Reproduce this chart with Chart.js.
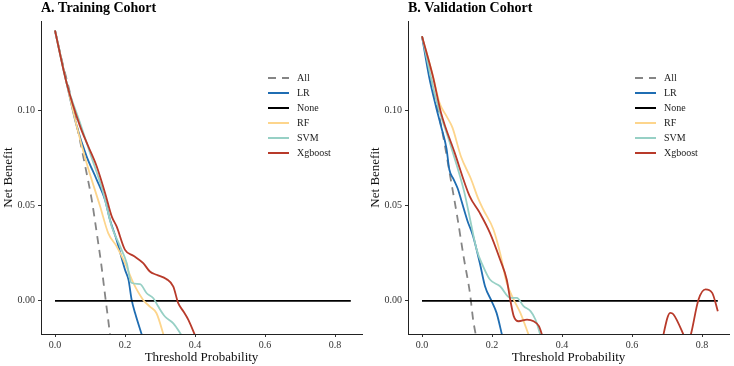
<!DOCTYPE html>
<html>
<head>
<meta charset="utf-8">
<script src="https://cdn.jsdelivr.net/npm/chart.js@4.4.0/dist/chart.umd.min.js"></script>
<style>
  html, body { margin: 0; padding: 0; background: #fff; }
  .wrap { display: flex; width: 734px; height: 366px; }
  canvas { display: block; }
</style>
</head>
<body>
<div class="wrap">
  <canvas id="trainChart" width="367" height="366"></canvas>
  <canvas id="validChart" width="367" height="366"></canvas>
</div>
<script>
const seriesNames = ['All', 'LR', 'None', 'RF', 'SVM', 'Xgboost'];
const xTicks = [0, 0.2, 0.4, 0.6, 0.8];
const yTicks = [0, 0.05, 0.10];

// training cohort, [threshold, net benefit]
const trainAll = [[0, 0.142], [0.02, 0.126], [0.043, 0.109], [0.067, 0.088], [0.086, 0.071], [0.105, 0.053], [0.119, 0.036], [0.133, 0.018], [0.143, 0.003], [0.152, -0.010], [0.16, -0.022]];
const trainLR = [[0, 0.142], [0.033, 0.1146], [0.062, 0.0918], [0.09, 0.076], [0.119, 0.0637], [0.143, 0.053], [0.157, 0.0426], [0.176, 0.032], [0.2, 0.0163], [0.21, 0.011], [0.219, 0.0005], [0.229, -0.0065], [0.25, -0.019]];
const trainNone = [[0, 0], [0.845, 0]];
const trainRF = [[0, 0.142], [0.033, 0.1146], [0.062, 0.0918], [0.09, 0.0725], [0.129, 0.0496], [0.152, 0.0356], [0.176, 0.0286], [0.2, 0.0198], [0.224, 0.0093], [0.252, 0.0005], [0.271, -0.003], [0.29, -0.0065], [0.312, -0.019]];
const trainSVM = [[0, 0.142], [0.033, 0.1146], [0.0714, 0.0935], [0.1, 0.0777], [0.138, 0.0567], [0.162, 0.0391], [0.186, 0.0286], [0.205, 0.0198], [0.218, 0.0095], [0.243, 0.0088], [0.262, 0.004], [0.281, 0.0014], [0.295, -0.003], [0.314, -0.0082], [0.338, -0.0118], [0.365, -0.019]];
const trainXgb = [[0, 0.142], [0.033, 0.1146], [0.0714, 0.0918], [0.095, 0.0812], [0.119, 0.0707], [0.143, 0.0567], [0.162, 0.0444], [0.176, 0.0391], [0.2, 0.0268], [0.224, 0.0237], [0.252, 0.0198], [0.271, 0.0154], [0.29, 0.0137], [0.319, 0.0114], [0.338, 0.0075], [0.352, -0.0012], [0.367, -0.0056], [0.381, -0.01], [0.402, -0.019]];

// validation cohort
const validAll = [[0, 0.139], [0.03, 0.113], [0.06, 0.087], [0.08, 0.066], [0.10, 0.045], [0.12, 0.022], [0.137, 0.004], [0.146, -0.0098], [0.157, -0.021]];
const validLR = [[0, 0.139], [0.02, 0.118], [0.04, 0.102], [0.054, 0.092], [0.07, 0.080], [0.078, 0.069], [0.09, 0.064], [0.102, 0.059], [0.112, 0.053], [0.13, 0.042], [0.146, 0.034], [0.165, 0.02], [0.18, 0.0077], [0.199, -0.0002], [0.213, -0.0063], [0.23, -0.019]];
const validNone = [[0, 0], [0.845, 0]];
const validRF = [[0, 0.139], [0.03, 0.119], [0.05, 0.104], [0.07, 0.097], [0.087, 0.091], [0.111, 0.076], [0.14, 0.064], [0.16, 0.054], [0.175, 0.048], [0.204, 0.0375], [0.223, 0.0252], [0.242, 0.0095], [0.262, 0.0007], [0.281, -0.0063], [0.307, -0.019]];
const validSVM = [[0, 0.139], [0.04, 0.106], [0.083, 0.081], [0.121, 0.057], [0.135, 0.045], [0.156, 0.027], [0.175, 0.018], [0.194, 0.0112], [0.223, 0.0077], [0.252, 0.0016], [0.271, 0.0016], [0.29, -0.0028], [0.31, -0.0054], [0.324, -0.0098], [0.34, -0.019]];
const validXgb = [[0, 0.139], [0.031, 0.118], [0.054, 0.099], [0.093, 0.078], [0.136, 0.055], [0.165, 0.0462], [0.194, 0.0357], [0.223, 0.0217], [0.242, 0.0112], [0.252, 0.0007], [0.262, -0.008], [0.276, -0.0107], [0.3, -0.0098], [0.319, -0.0107], [0.334, -0.0133], [0.345, -0.019], [0.4, -0.045], [0.5, -0.07], [0.6, -0.06], [0.68, -0.025], [0.709, -0.0063], [0.718, -0.007], [0.75, -0.019], [0.757, -0.022], [0.766, -0.019], [0.79, 0.0007], [0.81, 0.006], [0.829, 0.0042], [0.845, -0.0054]];

const colors = ['#858585', '#1f6db2', '#000000', '#fdd58c', '#97d0c5', '#b83a2a'];
const serif = '"Liberation Serif", "DejaVu Serif", serif';

// title drawn above the plot area, left aligned with the y axis
const panelTitle = {
    id: 'panelTitle',
    afterDraw(chart, args, opts) {
        const ctx = chart.ctx;
        ctx.save();
        ctx.font = 'bold 14px ' + serif;
        ctx.fillStyle = '#000';
        ctx.textAlign = 'left';
        ctx.textBaseline = 'alphabetic';
        ctx.fillText(opts.text, chart.chartArea.left, 12);
        ctx.restore();
    }
};

// legend inside the plot, ggplot style
const sideLegend = {
    id: 'sideLegend',
    afterDraw(chart) {
        const ctx = chart.ctx;
        const x0 = 268, y0 = 78, gap = 15;
        ctx.save();
        chart.data.datasets.forEach((ds, i) => {
            const y = y0 + i * gap;
            ctx.beginPath();
            ctx.strokeStyle = ds.borderColor;
            ctx.lineWidth = 2;
            ctx.setLineDash(ds.borderDash || []);
            ctx.moveTo(x0, y);
            ctx.lineTo(x0 + 21, y);
            ctx.stroke();
            ctx.setLineDash([]);
            ctx.fillStyle = '#222';
            ctx.font = '10px ' + serif;
            ctx.textAlign = 'left';
            ctx.textBaseline = 'middle';
            ctx.fillText(ds.label, x0 + 29, y);
        });
        ctx.restore();
    }
};

function makeChart(id, title, series) {
    const datasets = series.map((pts, i) => ({
        label: seriesNames[i],
        data: pts,
        borderColor: colors[i],
        borderWidth: 1.8,
        borderDash: i === 0 ? [8, 6] : [],
        pointRadius: 0,
        fill: false,
        cubicInterpolationMode: 'monotone',
        order: series.length - i
    }));

    return new Chart(document.getElementById(id).getContext('2d'), {
        type: 'line',
        data: { datasets: datasets },
        plugins: [panelTitle, sideLegend],
        options: {
            responsive: false,
            animation: false,
            events: [],
            layout: { padding: { top: 21, right: 5, left: 0, bottom: 0 } },
            plugins: {
                legend: { display: false },
                tooltip: { enabled: false },
                panelTitle: { text: title }
            },
            scales: {
                x: {
                    type: 'linear',
                    min: -0.04,
                    max: 0.877,
                    afterBuildTicks: s => { s.ticks = xTicks.map(v => ({ value: v })); },
                    afterFit: s => { s.height = 32; },
                    ticks: {
                        callback: v => v.toFixed(1),
                        font: { family: serif, size: 10 },
                        color: '#333',
                        padding: 2,
                        maxRotation: 0
                    },
                    grid: { drawOnChartArea: false, drawTicks: true, tickLength: 3, color: '#333' },
                    border: { display: true, color: '#222', width: 1 },
                    title: {
                        display: true,
                        text: 'Threshold Probability',
                        font: { family: serif, size: 13 },
                        color: '#111',
                        padding: { top: 0, bottom: 1 }
                    }
                },
                y: {
                    type: 'linear',
                    min: -0.0174,
                    max: 0.147,
                    afterBuildTicks: s => { s.ticks = yTicks.map(v => ({ value: v })); },
                    afterFit: s => { s.width = 41; },
                    ticks: {
                        callback: v => v.toFixed(2),
                        font: { family: serif, size: 10 },
                        color: '#333',
                        padding: 3
                    },
                    grid: { drawOnChartArea: false, drawTicks: true, tickLength: 3, color: '#333' },
                    border: { display: true, color: '#222', width: 1 },
                    title: {
                        display: true,
                        text: 'Net Benefit',
                        font: { family: serif, size: 13 },
                        color: '#111',
                        padding: { top: 1, bottom: 0 }
                    }
                }
            }
        }
    });
}

makeChart('trainChart', 'A. Training Cohort', [trainAll, trainLR, trainNone, trainRF, trainSVM, trainXgb]);
makeChart('validChart', 'B. Validation Cohort', [validAll, validLR, validNone, validRF, validSVM, validXgb]);
</script>
</body>
</html>
